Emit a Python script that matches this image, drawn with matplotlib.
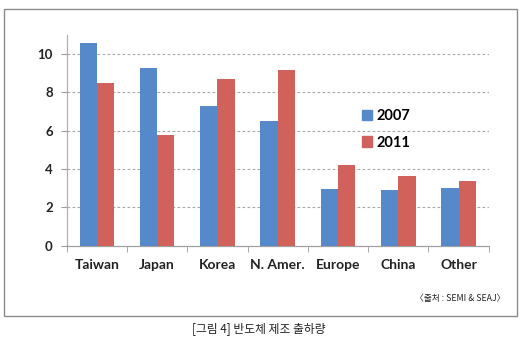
import numpy as np
import matplotlib
matplotlib.use("Agg")
import matplotlib.pyplot as plt
from matplotlib.patches import Patch, Rectangle

# ── Data: semiconductor fab shipments by region ───────────────────────────────
regions   = ["Taiwan", "Japan", "Korea", "N. Amer.", "Europe", "China", "Other"]
ship_2007 = [10.6, 9.3, 7.3, 6.5, 2.95, 2.9, 3.0]
ship_2011 = [8.5, 5.8, 8.7, 9.2, 4.2, 3.65, 3.4]
years     = ["2007", "2011"]
y_ticks   = [0, 2, 4, 6, 8, 10]

BLUE = "#5589C9"
RED  = "#D0625B"
LABEL_FONT = ["Lato", "DejaVu Sans"]
KR_FONT    = ["Noto Sans CJK KR", "DejaVu Sans"]

fig = plt.figure(figsize=(5.2, 3.47), dpi=100)
fig.patch.set_facecolor("white")

# outer frame around the chart
fig.patches.append(Rectangle((0.0077, 0.0893), 0.9865, 0.885,
                             transform=fig.transFigure, fill=False,
                             edgecolor="#8a8a8a", linewidth=1.0))

ax = fig.add_axes([0.128, 0.292, 0.812, 0.607])

x = np.arange(len(regions))
w = 0.285
ax.bar(x - w / 2, ship_2007, width=w, color=BLUE, label=years[0], zorder=3)
ax.bar(x + w / 2, ship_2011, width=w, color=RED, label=years[1], zorder=3)

ax.set_xlim(-0.5, len(regions) - 0.5)
ax.set_ylim(0, 11)

# dashed horizontal gridlines
for v in y_ticks[1:]:
    ax.axhline(v, color="#a8a8a8", linestyle=(0, (2.5, 2)), linewidth=0.8,
               zorder=1)

ax.set_yticks(y_ticks)
ax.set_yticklabels([str(v) for v in y_ticks], fontsize=9.5, fontweight="bold",
                   family=LABEL_FONT, color="#222222")
ax.set_xticks(x)
ax.set_xticklabels(regions, fontsize=10, fontweight="bold",
                   family=LABEL_FONT, color="#222222")
ax.tick_params(axis="x", which="major", length=0, pad=9.5)
ax.tick_params(axis="y", which="major", length=4, color="#9a9a9a", pad=6)
ax.set_xticks(np.arange(-0.5, len(regions)), minor=True)
ax.tick_params(axis="x", which="minor", length=4, color="#9a9a9a")

for side in ("top", "right"):
    ax.spines[side].set_visible(False)
ax.spines["left"].set_color("#b0b0b0")
ax.spines["bottom"].set_color("#a0a0a0")
ax.spines["left"].set_linewidth(0.9)
ax.spines["bottom"].set_linewidth(0.9)

handles = [Patch(color=BLUE), Patch(color=RED)]
ax.legend(handles, years, loc="upper left", bbox_to_anchor=(0.668, 0.71),
          frameon=False, handlelength=0.7, handleheight=0.7, handletextpad=0.3,
          labelspacing=0.85, prop={"family": LABEL_FONT, "weight": "bold",
                                   "size": 10.5})

fig.text(0.972, 0.141, "〈출처 : SEMI & SEAJ〉", ha="right", va="center",
         fontsize=6.3, family=KR_FONT, color="#222222")
fig.text(0.498, 0.052, "[그림 4] 반도체 제조 출하량", ha="center", va="center",
         fontsize=8.5, family=KR_FONT, color="#222222")

fig.savefig("out.png", dpi=100)
